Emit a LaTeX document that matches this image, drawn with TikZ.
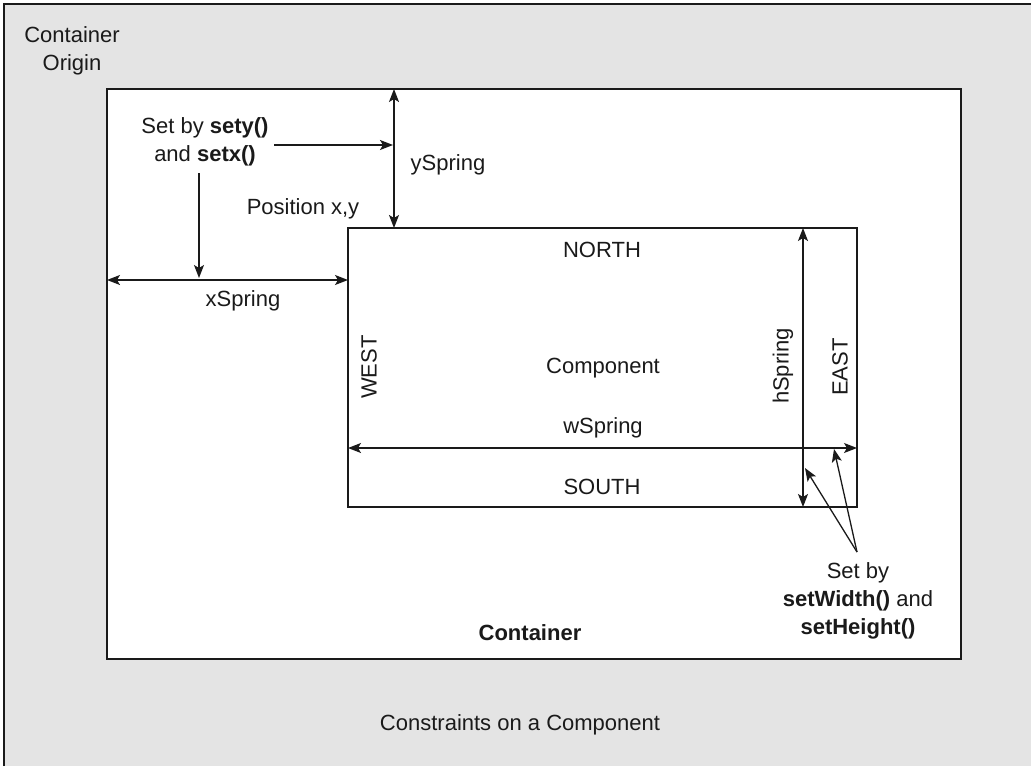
\documentclass[tikz,border=0pt]{standalone}
\usepackage{fontspec}
\setmainfont{Liberation Sans}
\usetikzlibrary{arrows.meta}
\definecolor{bggray}{HTML}{E4E4E4}
\definecolor{ink}{HTML}{1A1A1A}
\begin{document}
\begin{tikzpicture}[x=1pt,y=-1pt,
  lbl/.style={inner sep=0pt,font=\fontsize{22}{28}\selectfont,text=ink,align=center},
  frame/.style={draw=ink,line width=1.3pt},
  arr/.style={draw=ink,line width=1.3pt,-{Stealth[length=13pt,width=10pt,inset=3pt]}},
  darr/.style={draw=ink,line width=1.3pt,{Stealth[length=13pt,width=10pt,inset=3pt]}-{Stealth[length=13pt,width=10pt,inset=3pt]}}]
\useasboundingbox (0,0) rectangle (1031,766);
% outer background
\fill[bggray] (4,4) rectangle (1031,766);
\draw[frame] (4,766) -- (4,4) -- (1031,4);
% container and component
\draw[frame,fill=white] (107,89) rectangle (961,659);
\draw[frame,fill=white] (348,228) rectangle (857,507);
% coordinates
\coordinate (contTop) at (394,89);
\coordinate (compTop) at (394,228);
\coordinate (ySpringPt) at (393,145);
\coordinate (sxs) at (274,145);
\coordinate (sxd) at (199,173);
\coordinate (xStart) at (107,280);
\coordinate (xEnd) at (348,280);
\coordinate (xPt) at (199,278);
\coordinate (wStart) at (348,448);
\coordinate (wEnd) at (857,448);
\coordinate (hTop) at (803,228);
\coordinate (hBot) at (803,507);
\coordinate (hPt) at (805,468);
\coordinate (wPt) at (834,449);
\coordinate (fork) at (857,552);
% labels
\node[lbl] (origin) at (72,51) {Container\\Origin};
\node[lbl] (setxy) at (205,142) {Set by \textbf{sety()}\\and \textbf{setx()}};
\node[lbl] (yspring) at (448,165) {ySpring};
\node[lbl] (pos) at (303,209) {Position x,y};
\node[lbl] (xspring) at (243,301) {xSpring};
\node[lbl] (north) at (602,250) {NORTH};
\node[lbl] (comp) at (603,368) {Component};
\node[lbl,rotate=90] (west) at (369,367) {WEST};
\node[lbl,rotate=90] (hspring) at (783,366) {hSpring};
\node[lbl,rotate=90] (east) at (840,367) {EAST};
\node[lbl] (wspring) at (603,428) {wSpring};
\node[lbl] (south) at (602,487) {SOUTH};
\node[lbl] (setwh) at (858,601) {Set by\\\textbf{setWidth()} and\\\textbf{setHeight()}};
\node[lbl] (contlbl) at (530,633) {\textbf{Container}};
\node[lbl] (caption) at (520,725) {Constraints on a Component};
% connectors
\draw[darr] (contTop) -- (compTop);
\draw[arr] (sxs) -- (ySpringPt);
\draw[arr] (sxd) -- (xPt);
\draw[darr] (xStart) -- (xEnd);
\draw[darr] (wStart) -- (wEnd);
\draw[darr] (hTop) -- (hBot);
\draw[arr] (fork) -- (hPt);
\draw[arr] (fork) -- (wPt);
\end{tikzpicture}
\end{document}
